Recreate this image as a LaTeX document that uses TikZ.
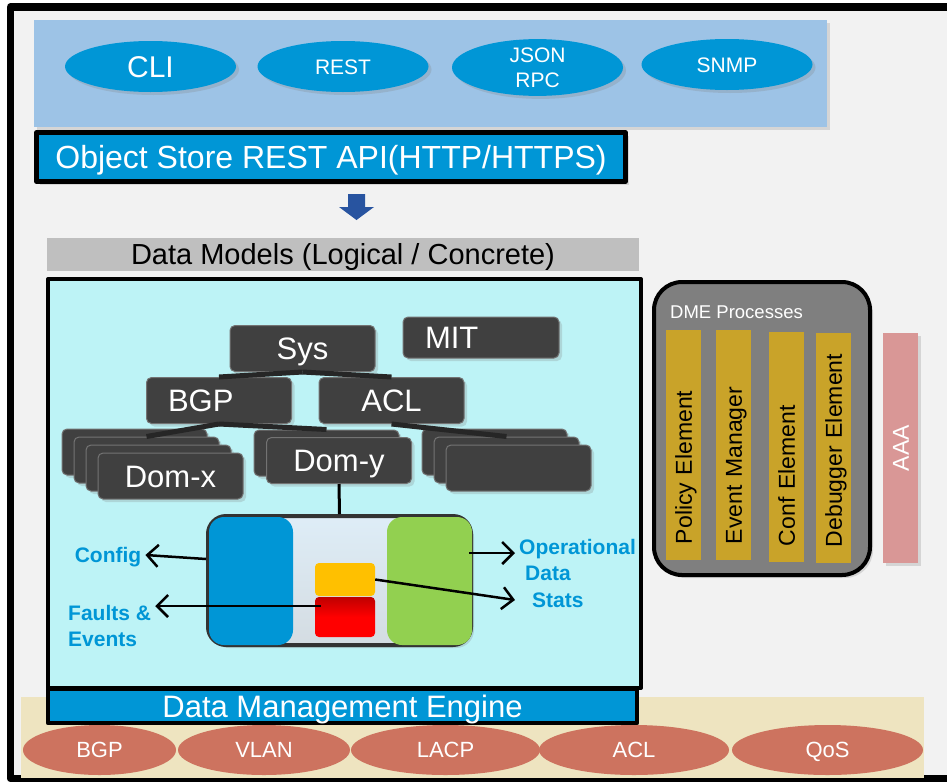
\documentclass[tikz,border=0pt]{standalone}
\usepackage{fontspec}
\setmainfont{Liberation Sans}
\usetikzlibrary{arrows.meta,shapes.geometric,shadows,positioning}

\definecolor{framebg}{RGB}{242,242,242}
\definecolor{panelblue}{RGB}{157,195,230}
\definecolor{ifblue}{RGB}{0,150,214}
\definecolor{dmcyan}{RGB}{189,243,246}
\definecolor{nodegray}{RGB}{64,64,64}
\definecolor{procgray}{RGB}{127,127,127}
\definecolor{elemgold}{RGB}{201,163,41}
\definecolor{aaapink}{RGB}{217,151,150}
\definecolor{panelbeige}{RGB}{238,228,192}
\definecolor{protosalmon}{RGB}{205,115,95}
\definecolor{arrowblue}{RGB}{40,84,160}
\definecolor{leafgreen}{RGB}{146,208,80}
\definecolor{coreyellow}{RGB}{255,192,0}

\newcommand{\fsz}[2]{\fontsize{#1}{#2}\selectfont}

\tikzset{
  capc/.style={text height=#1pt, text depth=0pt},
  softshadow/.style={drop shadow={shadow xshift=3pt, shadow yshift=-3pt, opacity=0.25}},
  iface/.style={ellipse, fill=ifblue, text=white, inner sep=0, minimum width=171, minimum height=51, softshadow},
  proto/.style={ellipse, fill=protosalmon, text=white, inner sep=0, minimum height=50, font=\fsz{22}{24}, capc=15.8},
  bluebar/.style={draw=black, line width=4.5, fill=ifblue, text=white, inner sep=0},
  mobox/.style={rounded corners=5, fill=nodegray, draw=black!55, line width=1, text=white, inner sep=0, minimum width=145, minimum height=46, font=\fsz{31}{34}, capc=22.2, softshadow},
  lefttext/.style={text width=#1, align=left},
  elem/.style={fill=elemgold, rotate=90, minimum width=230, minimum height=35, inner sep=0, text width=198, align=left, font=\fsz{23}{25}, capc=16.5, softshadow},
  tree/.style={line width=5, draw=black!85},
  outarr/.style={line width=2.5, -{Straight Barb[length=11pt,width=22pt]}},
  note/.style={text=ifblue, font=\bfseries\fsz{21}{26.5}, inner sep=4},
}

\begin{document}
\begin{tikzpicture}[x=1pt,y=-1pt,line join=round]
\useasboundingbox (0,0) rectangle (947,782);
% outer frame
\draw[line width=7.5, fill=framebg] (10.5,7) rectangle (965,778.5);

% client interfaces
\node[fill=panelblue, minimum width=793, minimum height=107, inner sep=0, softshadow] (apis) at (430.5,73.5) {};
\node[iface, font=\fsz{30}{32}, capc=21.5] (cli) at (150.5,66.5) {CLI};
\node[iface, font=\fsz{21}{23}, capc=15] (rest) at (343,66.5) {REST};
\node[iface, font=\fsz{21}{25.3}, align=center] (json) at (537.5,67.5) {JSON\\RPC};
\node[iface, font=\fsz{21}{23}, capc=15] (snmp) at (727,64.5) {SNMP};
\node[bluebar, minimum width=589, minimum height=49, font=\fsz{32}{34}, capc=22.9, softshadow] (osapi) at (331,157) {Object Store REST API(HTTP/HTTPS)};

\fill[arrowblue] (348,194) -- (365,194) -- (365,207) -- (374,207) -- (356.5,220) -- (339,207) -- (348,207) -- cycle;

% data models
\node[fill=black!25, minimum width=592, minimum height=33, inner sep=0, font=\fsz{29}{31}, capc=20.8] (models) at (343,254) {Data Models (Logical / Concrete)};
\fill[panelbeige] (21,697) rectangle (924,778);
\node[draw=black, line width=4, fill=dmcyan, minimum width=593, minimum height=409, inner sep=0] (dmpanel) at (344.5,483.5) {};
\node[bluebar, minimum width=589, minimum height=34, font=\fsz{31}{33}, capc=22.2] (dmebar) at (342.5,706) {Data Management Engine};

% protocols
\node[proto, minimum width=153] (pbgp) at (99.5,750) {BGP};
\node[proto, minimum width=172] (pvlan) at (264,750) {VLAN};
\node[proto, minimum width=189] (placp) at (445.5,750) {LACP};
\node[proto, minimum width=190] (pacl) at (634,750) {ACL};
\node[proto, minimum width=191] (pqos) at (827.5,750) {QoS};

% object tree
\node[mobox] (sys) at (302.5,348.5) {Sys};
\node[mobox, minimum width=156, minimum height=41, lefttext=112] (mit) at (481,337.5) {MIT};
\node[mobox, lefttext=102] (bgp) at (219,400.5) {BGP};
\node[mobox] (acl) at (391.5,400.5) {ACL};
\foreach \k in {0,1,2}
  \node[mobox] (domx\k) at (134.5+12*\k,452+8*\k) {};
\node[mobox] (domx) at (170.5,476) {Dom-x};
\node[mobox] (domy0) at (326.5,453) {};
\node[mobox] (domy) at (339,460.5) {Dom-y};
\foreach \k in {0,1,2}
  \node[mobox] (domz\k) at (494.5+12*\k,452+8*\k) {};
\draw[tree] (sys.south) -- (bgp.north);
\draw[tree] (sys.south) -- (acl.north);
\draw[tree] (bgp.south) -- (domx1.north);
\draw[tree] (bgp.south) -- (domy0.north);
\draw[tree] (acl.south) -- (domz1.north);

% managed object
\node[draw=black!80, line width=4, rounded corners=18, top color={rgb,255:red,222;green,237;blue,247}, bottom color={rgb,255:red,212;green,220;blue,226}, minimum width=263, minimum height=129, softshadow] (core) at (339.5,580.5) {};
\draw[line width=3] (domy.south) -- (core.north);
\node[fill=ifblue, rounded corners=15, minimum width=84, minimum height=128, inner sep=0] (cfg) at (251,581) {};
\node[fill=leafgreen, rounded corners=15, minimum width=85, minimum height=128, inner sep=0] (oper) at (429.5,581) {};
\node[fill=coreyellow, rounded corners=4, minimum width=60, minimum height=33, inner sep=0] (stat) at (345,579.5) {};
\node[top color=red!75!black, bottom color=red, middle color=red, rounded corners=4, minimum width=60, minimum height=40, inner sep=0] (fault) at (345,617) {};

% labels
\node[note, capc=15] (config) at (108,555) {Config};
\node[note, align=left, anchor=west] (faults) at (64,626) {Faults \&\\Events};
\node[note, align=left, anchor=west] (opdata) at (515,573) {Operational\\\hspace*{6pt}Data\\\hspace*{13pt}Stats};
\draw[outarr] ([yshift=21.5]core.west) -- (config.east);
\coordinate (fe) at ([xshift=6,yshift=11]fault.west);
\draw[outarr] (fe) -- (fe -| faults.east);
\coordinate (ge) at ([xshift=-3,yshift=28]oper.east);
\draw[outarr] (ge) -- (ge -| opdata.west);
\draw[outarr] (stat.east) -- ([yshift=-27]opdata.west);

% DME processes
\node[draw=black, line width=4, fill=procgray, rounded corners=28, minimum width=216, minimum height=293, inner sep=0, softshadow] (dmeproc) at (762,428.5) {};
\node[anchor=base west, text=white, font=\fsz{18.5}{20}, inner sep=0] (proctitle) at (670,318) {DME Processes};
\foreach \x/\y/\name/\txt in {683.5/445/policy/Policy Element, 733.5/445/evmgr/Event Manager, 786.5/447/confel/Conf Element, 833.5/448/debugel/Debugger Element}
  \node[elem] (\name) at (\x,\y) {\txt};
\node[elem, fill=aaapink, text=white, align=center] (aaa) at (900.5,448) {AAA};
\end{tikzpicture}
\end{document}
